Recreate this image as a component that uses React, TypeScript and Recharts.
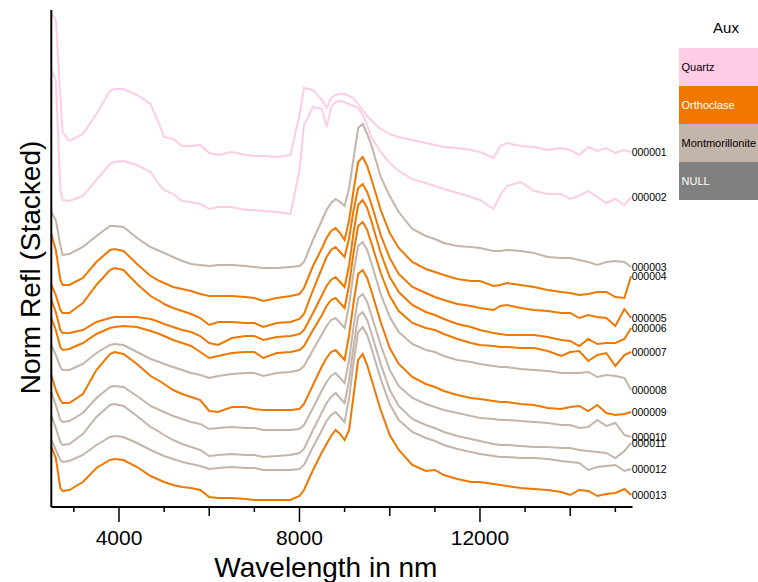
import React from 'react';
import { LineChart, Line, XAxis, YAxis } from 'recharts';

// wavelength grid shared by all spectra (nm)
const wavelength = [
  2500, 2600, 2700, 2750, 2900, 3200, 3500, 3800, 3900, 4100,
  4400, 4700, 4900, 5000, 5200, 5400, 5600, 5800, 6000, 6200,
  6500, 6800, 7000, 7200, 7500, 7800, 8000, 8100, 8300, 8500,
  8600, 8700, 8800, 8900, 9000, 9100, 9200, 9300, 9400, 9500,
  9600, 9800, 10000, 10200, 10500, 10800, 11000, 11200, 11500, 11800,
  12000, 12300, 12450, 12600, 12900, 13200, 13500, 13800, 14000, 14200,
  14400, 14600, 14800, 15000, 15200, 15350,
];

// stacked normalised reflectance, one array per sample
const s000001 = [
  49.4, 48.7, 41.2, 37.5, 36.6, 37.3, 39.3, 41.6, 41.8, 41.8,
  41.2, 40.3, 38.2, 37.0, 36.8, 36.1, 36.1, 36.2, 35.4, 35.2,
  35.5, 35.2, 35.1, 35.1, 35.0, 35.2, 39.2, 41.9, 41.7, 40.7,
  39.9, 40.9, 41.2, 41.3, 41.3, 41.1, 40.9, 40.3, 39.7, 39.1,
  38.6, 37.8, 37.3, 37.0, 36.7, 36.4, 36.2, 36.0, 35.9, 35.7,
  35.5, 34.9, 36.1, 36.4, 36.1, 36.0, 35.7, 35.9, 35.7, 35.2,
  36.0, 35.6, 35.9, 35.4, 35.7, 35.5,
];
const s000002 = [
  43.7, 42.7, 31.7, 30.7, 30.6, 31.1, 32.7, 34.3, 34.5, 34.6,
  34.2, 33.5, 32.2, 31.7, 31.3, 30.6, 30.5, 30.3, 29.8, 30.0,
  30.0, 29.7, 29.7, 29.6, 29.5, 29.3, 33.7, 38.2, 40.0, 39.8,
  38.0, 39.9, 40.5, 40.6, 40.5, 40.3, 40.1, 39.9, 39.2, 38.2,
  36.9, 35.5, 34.4, 33.6, 32.8, 32.4, 32.1, 31.8, 31.4, 31.0,
  30.7, 29.8, 31.2, 32.1, 32.5, 31.6, 31.3, 31.3, 30.8, 31.1,
  31.6, 31.0, 30.4, 30.8, 30.2, 31.0,
];
const s000003 = [
  29.5, 28.7, 26.2, 25.2, 25.3, 26.0, 27.1, 28.1, 28.1, 28.0,
  26.9, 26.0, 25.6, 25.4, 25.0, 24.6, 24.3, 24.2, 24.1, 24.2,
  24.2, 24.1, 24.0, 23.9, 23.9, 24.0, 24.1, 24.5, 26.7, 28.7,
  29.7, 30.4, 30.8, 30.5, 30.1, 31.9, 34.9, 37.9, 38.3, 37.3,
  36.1, 33.0, 31.1, 29.5, 27.8, 27.1, 26.8, 26.4, 26.1, 26.0,
  25.9, 25.6, 25.6, 25.7, 25.6, 25.4, 25.0, 24.9, 24.9, 24.7,
  24.5, 24.2, 24.5, 24.6, 24.5, 24.0,
];
const s000004 = [
  27.3, 25.7, 22.7, 22.2, 22.2, 22.9, 24.5, 25.7, 25.8, 25.6,
  24.3, 23.1, 22.6, 22.4, 22.0, 21.8, 21.6, 21.3, 21.1, 21.1,
  21.1, 21.0, 20.9, 20.6, 20.9, 21.1, 21.3, 21.9, 24.1, 25.9,
  26.9, 27.6, 27.9, 27.4, 26.7, 28.7, 31.7, 34.5, 35.0, 34.1,
  32.7, 29.7, 27.4, 25.9, 24.5, 23.8, 23.5, 23.2, 22.8, 22.6,
  22.6, 22.1, 22.2, 22.4, 22.2, 22.0, 21.7, 21.5, 21.4, 21.2,
  21.3, 21.5, 21.5, 21.0, 20.9, 23.1,
];
const s000005 = [
  22.2, 21.2, 19.7, 19.4, 19.4, 20.4, 22.2, 23.7, 23.9, 23.7,
  22.3, 21.1, 20.6, 20.3, 19.9, 19.6, 19.3, 18.9, 18.2, 18.5,
  18.5, 18.4, 18.4, 18.0, 18.4, 18.5, 18.8, 19.3, 21.7, 23.9,
  25.0, 25.7, 26.0, 25.5, 25.0, 26.9, 29.7, 31.9, 32.3, 31.5,
  30.2, 27.2, 24.9, 23.3, 22.0, 21.4, 21.0, 20.7, 20.3, 20.1,
  19.9, 19.7, 20.1, 20.2, 19.9, 19.7, 19.6, 19.4, 19.4, 18.9,
  19.2, 19.0, 18.9, 18.1, 19.8, 18.9,
];
const s000006 = [
  20.7, 19.5, 17.7, 17.4, 17.4, 17.7, 18.5, 18.9, 19.0, 19.0,
  19.0, 18.8, 18.5, 18.3, 18.0, 17.7, 17.5, 17.1, 16.4, 16.2,
  16.9, 17.1, 17.1, 16.7, 17.0, 17.1, 17.3, 17.7, 19.4, 21.2,
  22.1, 22.7, 23.0, 22.5, 22.0, 24.2, 27.5, 30.2, 30.7, 29.9,
  28.5, 25.4, 23.0, 21.5, 20.2, 19.5, 19.2, 18.8, 18.3, 18.0,
  17.7, 17.4, 17.3, 17.2, 17.2, 17.2, 17.0, 16.7, 16.6, 16.1,
  16.8, 16.3, 16.4, 16.4, 16.8, 17.9,
];
const s000007 = [
  18.9, 17.7, 16.0, 15.7, 15.8, 16.4, 17.3, 17.9, 18.0, 18.1,
  18.0, 17.6, 17.3, 17.1, 16.7, 16.4, 16.1, 15.5, 14.9, 15.1,
  15.4, 15.5, 15.5, 14.9, 15.4, 15.5, 15.7, 16.1, 17.7, 19.2,
  20.1, 20.7, 20.9, 20.4, 19.9, 22.2, 25.5, 28.1, 28.5, 27.7,
  26.3, 23.4, 21.1, 19.6, 18.4, 17.9, 17.7, 17.3, 16.8, 16.4,
  16.2, 16.1, 16.0, 16.0, 15.9, 15.9, 15.6, 15.1, 15.5, 15.6,
  14.6, 15.2, 15.4, 14.1, 15.2, 15.5,
];
const s000008 = [
  16.2, 15.2, 14.0, 13.7, 13.7, 14.3, 15.4, 16.2, 16.3, 16.2,
  15.5, 14.8, 14.5, 14.3, 14.0, 13.7, 13.4, 13.2, 12.9, 13.1,
  13.3, 13.4, 13.4, 13.1, 13.4, 13.5, 13.7, 14.1, 15.7, 17.3,
  18.1, 18.7, 18.9, 18.4, 17.9, 20.2, 23.5, 26.1, 26.5, 25.7,
  24.3, 21.3, 19.0, 17.5, 16.3, 15.7, 15.5, 15.1, 14.7, 14.5,
  14.3, 14.1, 14.0, 14.0, 13.8, 13.7, 13.6, 13.4, 13.4, 13.4,
  13.5, 13.0, 13.2, 13.1, 12.9, 11.7,
];
const s000009 = [
  13.2, 11.7, 10.7, 10.4, 10.4, 11.3, 13.7, 15.3, 15.5, 15.3,
  14.3, 13.1, 12.6, 12.3, 11.7, 11.3, 11.0, 10.7, 9.6, 9.5,
  10.0, 10.0, 9.8, 9.7, 9.7, 9.7, 9.8, 10.3, 12.2, 14.1,
  14.9, 15.5, 15.7, 15.2, 14.7, 17.2, 20.5, 23.3, 23.7, 22.9,
  21.5, 18.5, 15.9, 14.3, 13.0, 12.3, 12.0, 11.6, 11.2, 10.9,
  10.8, 10.6, 10.5, 10.5, 10.3, 10.2, 9.9, 9.8, 10.0, 10.1,
  9.6, 10.2, 9.4, 9.2, 9.3, 9.5,
];
const s000010 = [
  11.5, 10.2, 8.7, 8.5, 8.6, 9.4, 10.9, 12.0, 12.1, 12.0,
  11.1, 10.1, 9.7, 9.5, 9.1, 8.8, 8.5, 8.3, 7.8, 7.9,
  8.0, 7.9, 7.9, 7.7, 7.7, 7.7, 7.8, 8.2, 9.9, 11.7,
  12.5, 13.1, 13.4, 12.9, 12.4, 14.7, 18.1, 20.9, 21.3, 20.5,
  19.1, 16.2, 13.7, 12.1, 10.9, 10.3, 10.0, 9.7, 9.4, 9.1,
  8.9, 8.8, 8.7, 8.7, 8.6, 8.5, 8.4, 8.2, 8.2, 7.9,
  8.0, 8.7, 8.1, 8.4, 7.2, 7.0,
];
const s000011 = [
  9.2, 7.9, 6.5, 6.2, 6.3, 7.3, 9.0, 10.2, 10.3, 10.1,
  9.1, 8.0, 7.5, 7.2, 6.7, 6.3, 6.0, 5.7, 5.1, 5.2,
  5.3, 5.2, 5.2, 5.0, 5.1, 5.2, 5.4, 5.8, 7.7, 9.5,
  10.4, 11.0, 11.4, 10.9, 10.4, 12.7, 16.1, 19.1, 19.5, 18.7,
  17.3, 14.3, 11.7, 10.1, 8.8, 8.2, 7.9, 7.5, 7.1, 6.8,
  6.6, 6.3, 6.2, 6.2, 6.1, 6.0, 6.0, 5.9, 5.9, 5.7,
  5.6, 5.5, 5.4, 4.9, 5.6, 6.4,
];
const s000012 = [
  6.7, 5.7, 4.7, 4.5, 4.6, 5.2, 6.2, 7.0, 7.1, 7.0,
  6.4, 5.7, 5.3, 5.1, 4.8, 4.5, 4.3, 4.1, 3.8, 3.9,
  4.0, 3.9, 3.9, 3.7, 3.7, 3.7, 3.8, 4.2, 6.0, 7.7,
  8.6, 9.2, 9.5, 9.0, 8.5, 10.9, 14.5, 17.5, 18.0, 17.2,
  15.8, 12.8, 10.3, 8.7, 7.5, 6.9, 6.6, 6.2, 5.8, 5.5,
  5.3, 5.1, 5.0, 5.0, 4.9, 4.9, 4.8, 4.6, 4.5, 4.4,
  3.7, 4.0, 4.1, 4.2, 3.6, 3.8,
];
const s000013 = [
  6.0, 4.9, 1.9, 1.6, 1.7, 2.5, 3.9, 4.7, 4.8, 4.7,
  4.0, 3.1, 2.7, 2.5, 2.2, 2.0, 1.9, 1.7, 1.0, 0.9,
  0.9, 0.8, 0.7, 0.7, 0.7, 0.7, 1.1, 1.7, 3.7, 5.5,
  6.3, 7.1, 7.7, 7.3, 6.7, 7.7, 11.2, 14.7, 15.3, 14.2,
  12.7, 9.7, 7.2, 5.7, 4.2, 3.6, 3.7, 3.2, 2.8, 2.5,
  2.5, 2.3, 2.2, 2.1, 1.9, 1.8, 1.7, 1.5, 1.2, 1.7,
  1.6, 1.1, 1.3, 1.4, 1.8, 1.2,
];

const sampleIds = ['000001', '000002', '000003', '000004', '000005', '000006', '000007',
  '000008', '000009', '000010', '000011', '000012', '000013'];
const sampleMineral = ['Quartz', 'Quartz', 'Montmorillonite', 'Orthoclase', 'Orthoclase', 'Orthoclase',
  'Orthoclase', 'Montmorillonite', 'Orthoclase', 'Montmorillonite', 'Montmorillonite',
  'Montmorillonite', 'Orthoclase'];
const sampleValues = [s000001, s000002, s000003, s000004, s000005, s000006, s000007,
  s000008, s000009, s000010, s000011, s000012, s000013];

const minerals = ['Quartz', 'Orthoclase', 'Montmorillonite', 'NULL'];
const mineralFill: Record<string, string> = {
  Quartz: '#FFCCE6',
  Orthoclase: '#F07800',
  Montmorillonite: '#C4B5AB',
  NULL: '#808080',
};
const mineralInk: Record<string, string> = {
  Quartz: '#000',
  Orthoclase: '#fff',
  Montmorillonite: '#000',
  NULL: '#fff',
};

const xTicks = [3000, 4000, 5000, 6000, 7000, 8000, 9000, 10000, 11000, 12000, 13000, 14000, 15000];
const xTickLabels = [4000, 8000, 12000];

const data = wavelength.map((w, i) => {
  const row: Record<string, number> = { w };
  sampleIds.forEach((id, k) => {
    row[id] = sampleValues[k][i];
  });
  return row;
});

const WaveTick = (props: any) => {
  const { x, y, payload } = props;
  const v = payload.value;
  const len = v % 4000 === 0 ? 15 : v % 2000 === 0 ? 9 : 5;
  return (
    <g>
      <line x1={x} x2={x} y1={y} y2={y + len} stroke="#000" strokeWidth={1.5} />
      {xTickLabels.includes(v) && (
        <text x={x} y={y + 38} textAnchor="middle" fontSize={21} fill="#000">
          {v}
        </text>
      )}
    </g>
  );
};

const endLabel = (id: string) => (p: any) => {
  const key = `${id}-${p.index}`;
  if (p.index !== wavelength.length - 1) return <g key={key} />;
  return (
    <text key={key} x={p.cx + 0.5} y={p.cy} dy="0.35em" fontSize={10.5} fill="#000">
      {id}
    </text>
  );
};

const XTitle = (props: any) => {
  const vb = props.viewBox || { x: 51, y: 507, width: 581, height: 75 };
  return (
    <text x={vb.x + vb.width / 2 - 16} y={577} textAnchor="middle" fontSize={28} fill="#000">
      Wavelength in nm
    </text>
  );
};

const YTitle = (props: any) => {
  const vb = props.viewBox || { y: 10, height: 497 };
  const cy = vb.y + vb.height / 2 + 9;
  return (
    <text x={40} y={cy} transform={`rotate(-90, 40, ${cy})`} textAnchor="middle" fontSize={28} fill="#000">
      Norm Refl (Stacked)
    </text>
  );
};

export default function App() {
  return (
    <div
      style={{
        position: 'absolute',
        left: 0,
        top: 0,
        width: 758,
        height: 582,
        background: '#fff',
        fontFamily: '"Liberation Sans", Arial, sans-serif',
      }}
    >
      <LineChart width={758} height={582} data={data} margin={{ top: 10, right: 125.5, bottom: 0, left: 0 }}>
        <XAxis
          dataKey="w"
          type="number"
          domain={[2500, 15380]}
          ticks={xTicks}
          interval={0}
          height={75}
          tickSize={0}
          tickMargin={0}
          tickLine={false}
          axisLine={{ stroke: '#000', strokeWidth: 2 }}
          tick={<WaveTick />}
          label={XTitle}
        />
        <YAxis
          type="number"
          domain={[0, 49.7]}
          width={51.3}
          tick={false}
          tickLine={false}
          axisLine={{ stroke: '#000', strokeWidth: 2 }}
          label={YTitle}
        />
        {sampleIds.map((id, k) => (
          <Line
            key={id}
            type="linear"
            dataKey={id}
            stroke={mineralFill[sampleMineral[k]]}
            strokeWidth={2}
            dot={endLabel(id)}
            activeDot={false}
            isAnimationActive={false}
          />
        ))}
      </LineChart>

      <div style={{ position: 'absolute', left: 679, top: 19, width: 94, textAlign: 'center', fontSize: 15 }}>
        Aux
      </div>
      <div style={{ position: 'absolute', left: 679, top: 48, width: 79 }}>
        {minerals.map((m) => (
          <div
            key={m}
            style={{
              height: 38.1,
              background: mineralFill[m],
              color: mineralInk[m],
              fontSize: 11,
              display: 'flex',
              alignItems: 'center',
              paddingLeft: 2.5,
              whiteSpace: 'nowrap',
              overflow: 'hidden',
            }}
          >
            {m}
          </div>
        ))}
      </div>
    </div>
  );
}
